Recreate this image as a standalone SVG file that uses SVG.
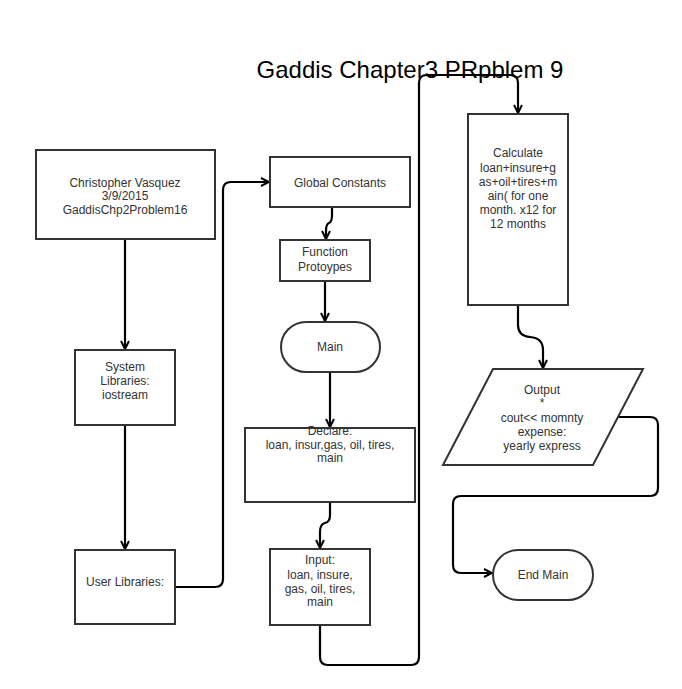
<svg xmlns="http://www.w3.org/2000/svg" width="682" height="689" viewBox="0 0 682 689">
<style>
.box{fill:#fff;stroke:#333;stroke-width:2}
.t{font-family:"Liberation Sans",Arial,sans-serif;font-size:12px;fill:#333;text-anchor:middle}
.title{font-family:"Liberation Sans",Arial,sans-serif;font-size:24px;fill:#000;text-anchor:middle}
.c{fill:none;stroke:#000;stroke-width:2.2;marker-end:url(#arr)}
</style>
<defs>
<marker id="arr" viewBox="0 0 10 10" refX="9" refY="5" markerWidth="10" markerHeight="10" markerUnits="userSpaceOnUse" orient="auto">
<path d="M1,1 L9,5 L1,9" fill="none" stroke="#000" stroke-width="2"/>
</marker>
</defs>
<rect width="682" height="689" fill="#fff"/>
<text class="title" x="410" y="78">Gaddis Chapter3 PRpblem 9</text>
<g id="connectors">
<path class="c" d="M125,239 L125,349"/>
<path class="c" d="M125,425 L125,549"/>
<path class="c" d="M176,587 L215,587 Q223,587 223,579 L223,190 Q223,182 231,182 L269,182"/>
<path class="c" d="M332,207 L332,215 Q332,222 329,223 Q326,224 326,231 L326,239"/>
<path class="c" d="M325,281 L325,321"/>
<path class="c" d="M330,372 L330,427"/>
<path class="c" d="M330,502 L330,515 Q330,522 325,523 Q320,524 320,532 L320,548"/>
<path class="c" d="M320,625 L320,657 Q320,665 328,665 L411,665 Q419,665 419,657 L419,83 Q419,75 427,75 L510,75 Q518,75 518,83 L518,113"/>
<path class="c" d="M518,305 L518,325 Q518,336 530,337 Q543,338 543,350 L543,368"/>
<path class="c" d="M618,417 L650,417 Q658,417 658,425 L658,488 Q658,496 650,496 L461,496 Q453,496 453,504 L453,565 Q453,573 461,573 L492,573"/>
</g>
<g id="n-author">
<rect class="box" x="36" y="150" width="179" height="89"/>
<text class="t" x="125" y="187">Christopher Vasquez</text>
<text class="t" x="125" y="200">3/9/2015</text>
<text class="t" x="125" y="214">GaddisChp2Problem16</text>
</g>
<g id="n-syslib">
<rect class="box" x="75" y="350" width="100" height="75"/>
<text class="t" x="125" y="371">System</text>
<text class="t" x="125" y="385">Libraries:</text>
<text class="t" x="125" y="399">iostream</text>
</g>
<g id="n-userlib">
<rect class="box" x="75" y="550" width="100" height="74"/>
<text class="t" x="125" y="586">User Libraries:</text>
</g>
<g id="n-global">
<rect class="box" x="270" y="157" width="140" height="50"/>
<text class="t" x="340" y="187">Global Constants</text>
</g>
<g id="n-proto">
<rect class="box" x="280" y="240" width="90" height="41"/>
<text class="t" x="325" y="256">Function</text>
<text class="t" x="325" y="271">Protoypes</text>
</g>
<g id="n-main">
<rect class="box" x="281" y="322" width="99" height="50" rx="25" ry="25"/>
<text class="t" x="330" y="351">Main</text>
</g>
<g id="n-declare">
<rect class="box" x="245" y="428" width="170" height="74"/>
<text class="t" x="330" y="435">Declare:</text>
<text class="t" x="330" y="449">loan, insur,gas, oil, tires,</text>
<text class="t" x="330" y="462">main</text>
</g>
<g id="n-input">
<rect class="box" x="270" y="549" width="100" height="76"/>
<text class="t" x="320" y="564">Input:</text>
<text class="t" x="320" y="579">loan, insure,</text>
<text class="t" x="320" y="593">gas, oil, tires,</text>
<text class="t" x="320" y="606">main</text>
</g>
<g id="n-calc">
<rect class="box" x="468" y="114" width="100" height="191"/>
<text class="t" x="518" y="157">Calculate</text>
<text class="t" x="518" y="172">loan+insure+g</text>
<text class="t" x="518" y="186">as+oil+tires+m</text>
<text class="t" x="518" y="200">ain( for one</text>
<text class="t" x="518" y="214">month. x12 for</text>
<text class="t" x="518" y="228">12 months</text>
</g>
<g id="n-output">
<polygon class="box" points="493,369 643,369 593,465 443,465"/>
<text class="t" x="542" y="394">Output</text>
<text class="t" x="542" y="407">*</text>
<text class="t" x="542" y="422">cout&lt;&lt; momnty</text>
<text class="t" x="542" y="436">expense:</text>
<text class="t" x="542" y="450">yearly express</text>
</g>
<g id="n-end">
<rect class="box" x="493" y="550" width="100" height="50" rx="25" ry="25"/>
<text class="t" x="543" y="579">End Main</text>
</g>
</svg>
